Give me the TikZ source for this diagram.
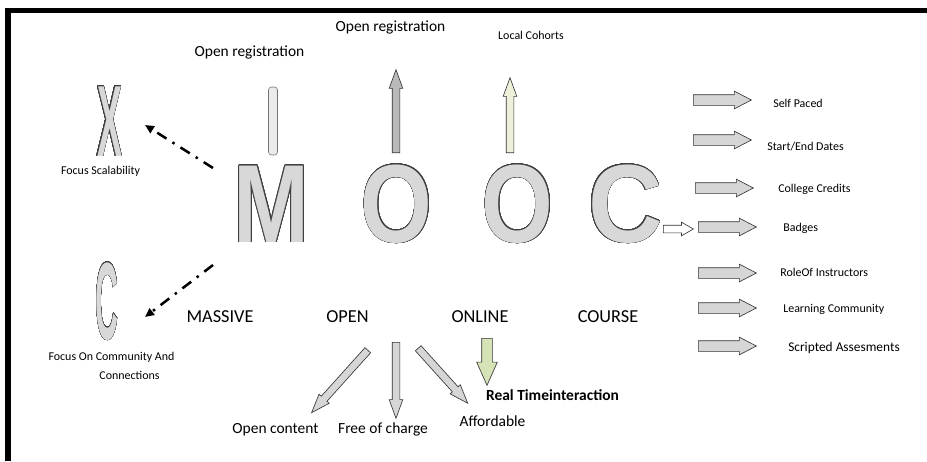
\documentclass[tikz,border=0pt]{standalone}
\usepackage{fontspec}
\setmainfont{Carlito}
\newfontfamily\letterfont{Liberation Sans}
\usepackage{graphicx}
\usepackage{contour}
\contourlength{0.5pt}
\contournumber{32}
\usetikzlibrary{shapes.arrows, arrows.meta}

\definecolor{letterfill}{RGB}{216,216,216}
\definecolor{arrgray}{RGB}{185,185,185}
\definecolor{arrlight}{RGB}{214,214,214}
\definecolor{arrcream}{RGB}{238,240,218}
\definecolor{arrgreen}{RGB}{214,227,182}

% one pixel of the reference
\newcommand\pxu{0.7113pt}
\newcommand\bigletter[3]{\scalebox{#1}[1]{\fontsize{#2}{#2}\selectfont\contour{black!75}{#3}}}

\tikzset{
  bigltr/.style={inner sep=0pt, anchor=base, text=letterfill, font=\letterfont\bfseries},
  blockarr/.style={single arrow, draw=black!80, line width=0.45pt, inner sep=0pt, anchor=tail},
  thinarr/.style={blockarr, fill=arrlight, inner ysep=3.5*\pxu, single arrow head extend=3*\pxu, single arrow tip angle=40},
  rarrow/.style={blockarr, fill=arrlight, minimum height=58*\pxu, inner ysep=5*\pxu, single arrow head extend=3.5*\pxu, single arrow tip angle=55},
  dashdot/.style={line width=1.8pt, dash pattern=on 11*\pxu off 7*\pxu on 2.5*\pxu off 7*\pxu, -{Triangle[length=9*\pxu, width=8*\pxu]}},
  mainlbl/.style={font=\fontsize{13}{15}\selectfont, inner sep=0pt},
  midlbl/.style={font=\fontsize{11}{13}\selectfont, inner sep=0pt},
  smalllbl/.style={font=\fontsize{8.5}{10}\selectfont, inner sep=0pt},
}

\begin{document}
\begin{tikzpicture}[x=0.025cm, y=-0.025cm]
  \useasboundingbox (0,0) rectangle (927,461);
  % frame
  \draw[line width=5*\pxu, line join=miter] (927,10.5) -- (8,10.5) -- (8,461);

  % big letters
  \node[bigltr] (M) at (271.5,242) {\bigletter{0.82}{79}{M}};
  \node[bigltr] (O1) at (396.5,242) {\bigletter{0.83}{79}{O}};
  \node[bigltr] (O2) at (517.5,242) {\bigletter{0.83}{79}{O}};
  \node[bigltr] (C) at (625.5,242) {\bigletter{0.93}{79}{C}};
  \node[bigltr] (X) at (109.5,156) {\bigletter{0.37}{72}{X}};
  \node[bigltr] (CL) at (107,339) {\bigletter{0.29}{78}{C}};

  % words
  \node[mainlbl] (massive) at (220,317) {MASSIVE};
  \node[mainlbl] (open) at (347.5,317) {OPEN};
  \node[mainlbl] (online) at (480,317) {ONLINE};
  \node[mainlbl] (course) at (608,317) {COURSE};

  % massive
  \coordinate (mtop) at (213,168);
  \coordinate (xtip) at (145,125);
  \coordinate (mbot) at (213,265);
  \coordinate (ctip) at (145,317);
  \draw[dashdot] (mtop) -- (xtip);
  \draw[dashdot] (mbot) -- (ctip);
  \node[smalllbl] (scal) at (100.5,171) {Focus Scalability};
  \node[smalllbl] (comm1) at (111.5,357) {Focus On Community And};
  \node[smalllbl] (comm2) at (129.5,375) {Connections};
  \node[draw=black!55, fill=black!8, rounded corners=3*\pxu, minimum width=9*\pxu, minimum height=68*\pxu, inner sep=0pt] (mbar) at (273,121) {};
  \node[midlbl] (reg1) at (249.5,52) {Open registration};

  % open
  \node[thinarr, fill=arrgray, minimum height=83*\pxu, rotate=90] (regarr) at (396,153) {};
  \node[midlbl] (reg2) at (390.5,27) {Open registration};
  \node[thinarr, minimum height=84*\pxu, rotate=-132] (contarr) at (368,350) {};
  \node[thinarr, minimum height=76*\pxu, rotate=-90] (freearr) at (396,342) {};
  \node[thinarr, minimum height=74*\pxu, rotate=-48] (affarr) at (418,348) {};
  \node[midlbl] (content) at (275.5,430) {Open content};
  \node[midlbl] (free) at (383,429) {Free of charge};
  \node[midlbl] (afford) at (492.5,421) {Affordable};

  % online
  \node[thinarr, fill=arrcream, minimum height=75*\pxu, rotate=90] (cohortarr) at (510,153) {};
  \node[smalllbl] (cohort) at (531,35) {Local Cohorts};
  \node[blockarr, fill=arrgreen, minimum height=47*\pxu, inner ysep=5*\pxu, single arrow head extend=5*\pxu, single arrow tip angle=48, rotate=-90] (realarr) at (487,338) {};
  \node[midlbl, font=\fontsize{11}{13}\selectfont\bfseries] (real) at (552.5,395) {Real Timeinteraction};

  % course
  \node[blockarr, fill=white, minimum height=30*\pxu, inner ysep=3.5*\pxu, single arrow head extend=3*\pxu, single arrow tip angle=60] (carr) at (663,229) {};
  \foreach \yy/\xx/\nm in {100/693/selfarr, 140/693/datesarr, 188/695/credarr, 227/698/badgearr, 273/698/rolearr, 308/698/learnarr, 346/698/scriptarr}
    \node[rarrow] (\nm) at (\xx,\yy) {};
  \node[smalllbl, anchor=west] (self) at (773,103) {Self Paced};
  \node[smalllbl, anchor=west] (dates) at (767,147) {Start/End Dates};
  \node[smalllbl, anchor=west] (cred) at (778,189) {College Credits};
  \node[smalllbl, anchor=west] (badge) at (783,228) {Badges};
  \node[smalllbl, anchor=west] (role) at (780,272) {RoleOf Instructors};
  \node[smalllbl, anchor=west] (learn) at (783,309) {Learning Community};
  \node[smalllbl, anchor=west, font=\fontsize{9.5}{11}\selectfont] (script) at (788,348) {Scripted Assesments};
\end{tikzpicture}
\end{document}
